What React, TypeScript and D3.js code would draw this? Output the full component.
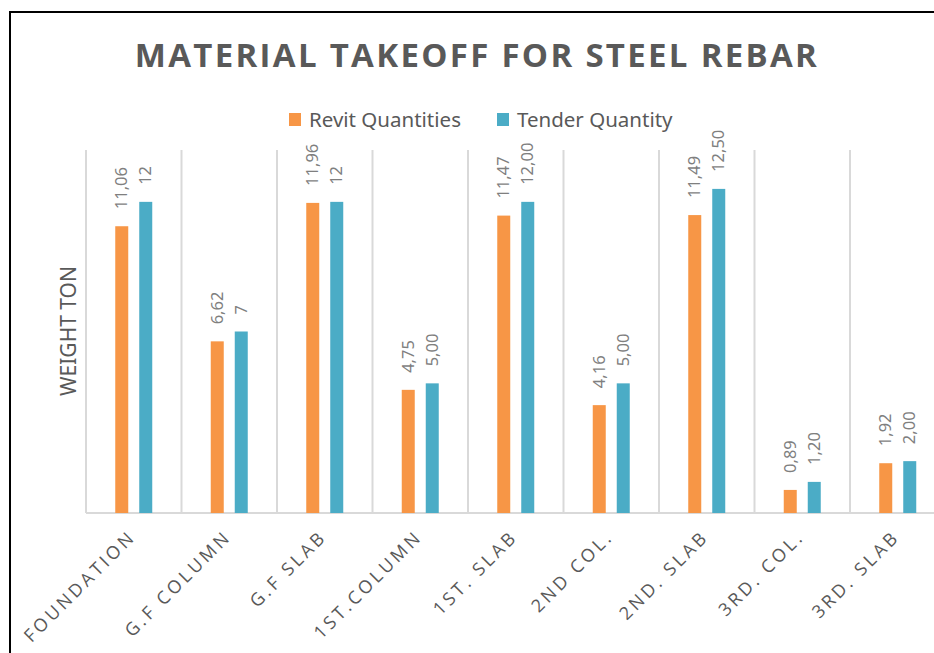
import React from "react";
import * as d3 from "d3";

const categories = ["FOUNDATION", "G.F COLUMN", "G.F SLAB", "1ST.COLUMN", "1ST. SLAB", "2ND COL.", "2ND. SLAB", "3RD. COL.", "3RD. SLAB"];
const revit = [11.06, 6.62, 11.96, 4.75, 11.47, 4.16, 11.49, 0.89, 1.92];
const tender = [12, 7, 12, 5, 12, 5, 12.5, 1.2, 2];
const revitLabels = ["11,06", "6,62", "11,96", "4,75", "11,47", "4,16", "11,49", "0,89", "1,92"];
const tenderLabels = ["12", "7", "12", "5,00", "12,00", "5,00", "12,50", "1,20", "2,00"];
const seriesNames = ["Revit Quantities", "Tender Quantity"];
const yDomain = [0, 14];

const W = 934, H = 653;
const ORANGE = "#F79646";
const BLUE = "#4BACC6";

export default function App() {
  const left = 86, right = 945.5, top = 150, bottom = 513;
  const x = d3.scaleBand<string>().domain(categories).range([left, right]).paddingInner(0).paddingOuter(0);
  const y = d3.scaleLinear().domain(yDomain).range([bottom, top]);
  const bw = 13;
  const off = 12;
  const series = [
    { vals: revit, labels: revitLabels, color: ORANGE, dx: -off },
    { vals: tender, labels: tenderLabels, color: BLUE, dx: off },
  ];
  const font = "'Open Sans', 'Noto Sans', sans-serif";
  return (
    <svg width={W} height={H} style={{ position: "fixed", left: 0, top: 0 }} fontFamily={font}>
      <rect x={0} y={0} width={W} height={H} fill="#fff" />
      <rect x={10} y={12} width={960} height={700} fill="#fff" stroke="#000" strokeWidth={2} />
      <text x={477} y={67} textAnchor="middle" fontSize={33} fontWeight={700} fill="#595959" letterSpacing={2.3}>
        MATERIAL TAKEOFF FOR STEEL REBAR
      </text>
      {/* legend */}
      <rect x={289} y={113} width={12} height={13} fill={ORANGE} />
      <text x={309} y={127} fontSize={20.5} fill="#595959" fontFamily="'Noto Sans', sans-serif">{seriesNames[0]}</text>
      <rect x={497} y={113} width={12} height={13} fill={BLUE} />
      <text x={517} y={127} fontSize={20.5} fill="#595959" fontFamily="'Noto Sans', sans-serif">{seriesNames[1]}</text>
      {/* gridlines */}
      {categories.map((c, i) => (
        <line key={"g" + i} x1={x(c)!} x2={x(c)!} y1={top} y2={bottom} stroke="#d9d9d9" strokeWidth={2} />
      ))}
      <line x1={right} x2={right} y1={top} y2={bottom} stroke="#d9d9d9" strokeWidth={2} />
      <line x1={left} x2={right} y1={bottom} y2={bottom} stroke="#d9d9d9" strokeWidth={2} />
      {/* bars */}
      {series.map((s, si) =>
        categories.map((c, i) => {
          const cx = x(c)! + x.bandwidth() / 2 + s.dx;
          const yt = y(s.vals[i]);
          return (
            <g key={si + "-" + i}>
              <rect x={cx - bw / 2} y={yt} width={bw} height={bottom - yt} fill={s.color} />
              <text
                transform={`translate(${cx + 1},${yt - 17}) rotate(-90)`}
                fontSize={16.5}
                fill="#7f7f7f"
                dominantBaseline="middle"
                fontFamily="'Noto Sans', sans-serif"
              >
                {s.labels[i]}
              </text>
            </g>
          );
        })
      )}
      {/* y axis title */}
      <text transform={`translate(75.5,331) rotate(-90)`} textAnchor="middle" fontSize={21} fill="#595959" fontFamily="'Noto Sans', sans-serif">
        WEIGHT TON
      </text>
      {/* category labels */}
      {categories.map((c, i) => {
        const cx = x(c)! + x.bandwidth() / 2;
        return (
          <text
            key={"c" + i}
            transform={`translate(${cx + 3},${538}) rotate(-45)`}
            textAnchor="end"
            fontSize={18}
            fill="#595959"
            letterSpacing={3.2}
          >
            {c}
          </text>
        );
      })}
    </svg>
  );
}
